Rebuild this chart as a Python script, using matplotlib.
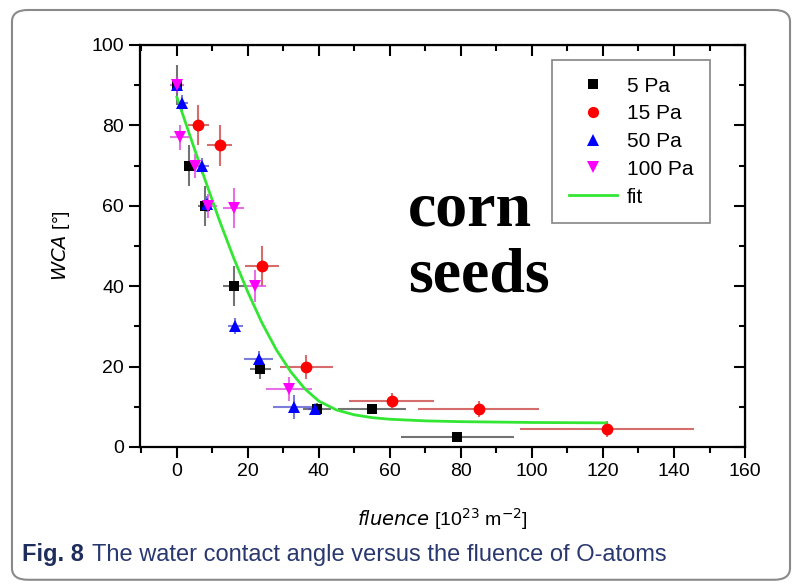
import matplotlib.pyplot as plt
from matplotlib.lines import Line2D
from matplotlib.patches import FancyBboxPatch
from matplotlib.ticker import MultipleLocator

# WCA [deg] vs fluence [1e23 m^-2] for each pressure, with x/y error bars
x_5 = [0, 3.5, 8, 16, 23.5, 39.5, 55, 79]
y_5 = [90, 70, 60, 40, 19.5, 9.5, 9.5, 2.5]
xe_5 = [1, 1.5, 2, 3, 3, 4, 9.5, 16]
ye_5 = [5, 5, 5, 5, 2.5, 1.5, 1, 1]

x_15 = [6, 12, 24, 36.5, 60.5, 85, 121]
y_15 = [80, 75, 45, 20, 11.5, 9.5, 4.5]
xe_15 = [3, 3.5, 4.7, 7.5, 12, 17, 24.5]
ye_15 = [5, 5, 5, 3, 2, 2, 2]

x_50 = [0, 1.5, 7, 8.5, 16.5, 23, 33, 39]
y_50 = [90, 85.5, 70, 60.5, 30, 22, 10, 9.5]
xe_50 = [1, 1.5, 2, 2, 2, 4, 6, 2]
ye_50 = [2, 2, 2, 2, 2, 2, 3, 1]

x_100 = [0, 1, 5, 8.7, 16, 22, 31.5]
y_100 = [90, 77, 70, 60, 59.5, 40, 14.5]
xe_100 = [2, 3, 2, 2.5, 3, 3, 6.5]
ye_100 = [2, 3, 3, 3, 5, 4, 3]

fit_x = [0, 4, 8, 12, 16, 20, 24, 28, 32, 36, 40, 45, 50, 55, 60, 70, 80, 100, 121]
fit_y = [87, 76.6, 66.3, 56.3, 47, 38.5, 30.8, 24.2, 18.8, 14.5, 11.4, 9.2, 8, 7.3, 6.9, 6.5, 6.3, 6.1, 6.0]

plt.rcParams['font.family'] = ['Liberation Sans', 'DejaVu Sans']

fig = plt.figure(figsize=(7.98, 5.88), dpi=100)
ax = fig.add_axes([0.1754, 0.2398, 0.7582, 0.6837])

series = [
    (x_5, y_5, xe_5, ye_5, 's', 7, 'black', '#444444', '5 Pa'),
    (x_15, y_15, xe_15, ye_15, 'o', 8.5, 'red', '#c83c3c', '15 Pa'),
    (x_50, y_50, xe_50, ye_50, '^', 8.5, 'blue', '#5050d0', '50 Pa'),
    (x_100, y_100, xe_100, ye_100, 'v', 8.5, 'magenta', '#e040e0', '100 Pa'),
]
handles = []
for xs, ys, xe, ye, mk, ms, col, ecol, lab in series:
    _, caps, bars = ax.errorbar(xs, ys, xerr=xe, yerr=ye, fmt=mk, color=col,
                                ecolor=ecol, elinewidth=1.5, capsize=7,
                                capthick=1.5, markersize=ms, markeredgewidth=0)
    for b in bars:
        b.set_alpha(0.75)
    for c in caps:
        c.set_alpha(0.75)
    handles.append(Line2D([], [], linestyle='none', marker=mk, color=col,
                          markersize=ms * 0.95, markeredgewidth=0, label=lab))

fit_line, = ax.plot(fit_x, fit_y, color='#33e633', linewidth=2, label='fit')
handles.append(fit_line)

ax.set_xlim(-10.4, 160)
ax.set_ylim(0, 100)
ax.xaxis.set_major_locator(MultipleLocator(20))
ax.xaxis.set_minor_locator(MultipleLocator(10))
ax.yaxis.set_major_locator(MultipleLocator(20))
ax.yaxis.set_minor_locator(MultipleLocator(10))
ax.tick_params(which='both', direction='out', width=1.5, labelsize=14,
               top=False, right=False)
ax.tick_params(which='major', length=8)
ax.tick_params(which='minor', length=4.5)
for s in ax.spines.values():
    s.set_linewidth(1.6)

# mirrored inward ticks on top and right
axt = ax.secondary_xaxis('top')
axt.xaxis.set_major_locator(MultipleLocator(20))
axt.xaxis.set_minor_locator(MultipleLocator(10))
axt.tick_params(which='both', direction='in', width=1.5, labeltop=False)
axt.tick_params(which='major', length=8)
axt.tick_params(which='minor', length=4.5)
axr = ax.secondary_yaxis('right')
axr.yaxis.set_major_locator(MultipleLocator(20))
axr.yaxis.set_minor_locator(MultipleLocator(10))
axr.tick_params(which='both', direction='in', width=1.5, labelright=False)
axr.tick_params(which='major', length=8)
axr.tick_params(which='minor', length=4.5)

ax.set_xlabel(r'$\it{fluence}$ [10$^{23}$ m$^{-2}$]', fontsize=14, labelpad=19)
ax.set_ylabel(r'$\it{WCA}$ [°]', fontsize=14, labelpad=14)

leg = ax.legend(handles=handles, loc='upper left', bbox_to_anchor=(0.681, 0.963),
                borderaxespad=0, fontsize=15, frameon=True, fancybox=False,
                edgecolor='#666666', labelspacing=0.42, handlelength=2.3,
                borderpad=0.8, handletextpad=0.5)
leg.get_frame().set_linewidth(1.2)

fig.text(408 / 798, 1 - 225 / 588, 'corn', fontsize=46, fontweight='bold',
         family='Liberation Serif', ha='left', va='baseline')
fig.text(408 / 798, 1 - 292 / 588, 'seeds', fontsize=46, fontweight='bold',
         family='Liberation Serif', ha='left', va='baseline')

fig.text(22 / 798, 1 - 561 / 588, 'Fig. 8', fontsize=17, fontweight='bold',
         color='#1f2d5c')
fig.text(92 / 798, 1 - 561 / 588, 'The water contact angle versus the fluence of O-atoms',
         fontsize=17, color='#2a3870')

frame = FancyBboxPatch((0.015, 0.014), 0.975, 0.969, boxstyle='round,pad=0,rounding_size=0.02',
                       transform=fig.transFigure, facecolor='none', edgecolor='#8a8a8a',
                       linewidth=1.5)
fig.patches.append(frame)

fig.savefig('out.png', dpi=100)
